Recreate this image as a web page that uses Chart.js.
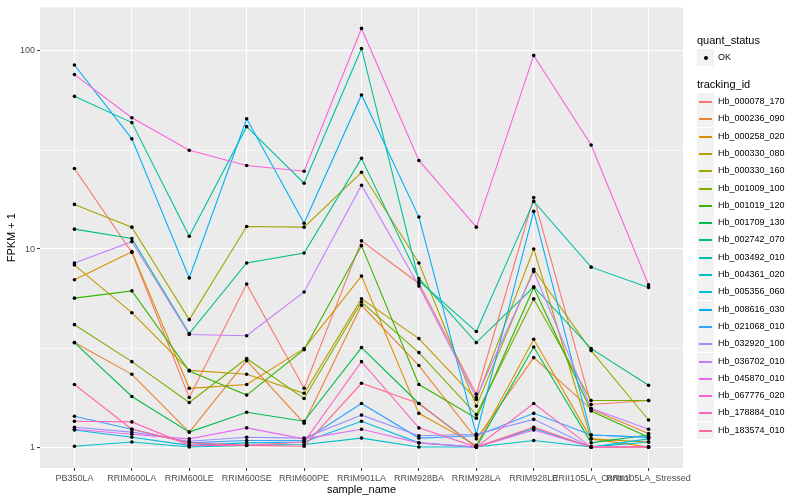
<!DOCTYPE html>
<html>
<head>
<meta charset="utf-8">
<script src="https://cdn.jsdelivr.net/npm/chart.js@4"></script>
<style>
  body { margin: 0; background: #fff; font-family: "Liberation Sans", Arial, sans-serif; }
  #wrap { position: relative; width: 800px; height: 500px; }
  #legend { position: absolute; left: 696px; top: 0; width: 104px; height: 500px; }
  .ttl { position: absolute; left: 1px; font-size: 11px; color: #000; line-height: 13px; }
  .key { position: absolute; left: 1px; width: 17px; height: 17px; background: #F2F2F2; }
  .key i { position: absolute; left: 2px; right: 2px; top: 8px; height: 2px; }
  .key b { position: absolute; left: 6.5px; top: 6.5px; width: 4px; height: 4px; border-radius: 50%; background: #000; }
  .lab { position: absolute; left: 22px; font-size: 9px; color: #000; line-height: 11px; }
</style>
</head>
<body>
<div id="wrap">
  <canvas id="chart" width="800" height="500"></canvas>
  <div id="legend"></div>
</div>
<script>
// samples on the x axis
const categories = ['PB350LA', 'RRIM600LA', 'RRIM600LE', 'RRIM600SE', 'RRIM600PE', 'RRIM901LA',
  'RRIM928BA', 'RRIM928LA', 'RRIM928LE', 'RRII105LA_Control', 'RRII105LA_Stressed'];

const trackingIds = ['Hb_000078_170', 'Hb_000236_090', 'Hb_000258_020', 'Hb_000330_080', 'Hb_000330_160',
  'Hb_001009_100', 'Hb_001019_120', 'Hb_001709_130', 'Hb_002742_070', 'Hb_003492_010',
  'Hb_004361_020', 'Hb_005356_060', 'Hb_008616_030', 'Hb_021068_010', 'Hb_032920_100',
  'Hb_036702_010', 'Hb_045870_010', 'Hb_067776_020', 'Hb_178884_010', 'Hb_183574_010'];

// FPKM + 1 per sample
const hb000078_170 = [25.5, 9.6, 1.78, 6.65, 1.98, 11.0, 6.7, 1.85, 18.2, 1.64, 1.72];
const hb000236_090 = [3.37, 2.33, 1.19, 2.73, 1.32, 5.2, 2.58, 1.1, 2.83, 1.55, 1.17];
const hb000258_020 = [7.0, 9.7, 1.98, 2.07, 3.14, 7.3, 1.48, 1.02, 3.5, 1.1, 1.0];
const hb000330_080 = [8.3, 4.77, 2.44, 2.33, 1.87, 5.6, 3.53, 1.74, 10.0, 1.1, 1.06];
const hb000330_160 = [16.8, 12.9, 4.4, 13.0, 12.9, 24.4, 8.5, 1.61, 7.9, 3.07, 1.37];
const hb001009_100 = [4.15, 2.7, 1.68, 2.8, 1.76, 5.4, 3.0, 1.46, 5.6, 1.72, 1.72];
const hb001019_120 = [5.65, 6.15, 2.42, 1.83, 3.1, 10.4, 2.07, 1.4, 6.4, 1.52, 1.12];
const hb001709_130 = [3.37, 1.8, 1.19, 1.5, 1.35, 3.18, 1.66, 1.0, 3.2, 1.05, 1.15];
const hb002742_070 = [12.6, 11.3, 3.74, 8.5, 9.55, 28.7, 7.1, 3.37, 6.45, 3.14, 2.05];
const hb003492_010 = [59, 43.5, 11.6, 41.5, 21.5, 103, 6.9, 3.83, 17.4, 8.1, 6.4];
const hb004361_020 = [1.01, 1.06, 1.0, 1.02, 1.03, 1.11, 1.0, 1.0, 1.08, 1.0, 1.06];
const hb005356_060 = [1.22, 1.12, 1.02, 1.05, 1.06, 1.35, 1.05, 1.0, 1.24, 1.0, 1.1];
const hb008616_030 = [85, 36, 7.15, 45.5, 13.5, 60, 14.5, 1.16, 15.5, 1.15, 1.12];
const hb021068_010 = [1.43, 1.23, 1.05, 1.08, 1.08, 1.66, 1.11, 1.14, 1.48, 1.15, 1.12];
const hb032920_100 = [1.26, 1.19, 1.07, 1.12, 1.11, 1.45, 1.14, 1.16, 1.38, 1.0, 1.0];
const hb036702_010 = [8.5, 10.9, 3.7, 3.65, 6.07, 21, 6.5, 1.78, 7.7, 1.57, 1.23];
const hb045870_010 = [1.23, 1.16, 1.1, 1.25, 1.1, 1.23, 1.05, 1.0, 1.22, 1.0, 1.0];
const hb067776_020 = [76, 46, 31.5, 26.4, 24.7, 130, 28, 12.9, 95, 33.5, 6.6];
const hb178884_010 = [1.35, 1.34, 1.02, 1.02, 1.06, 2.7, 1.25, 1.0, 1.66, 1.0, 1.0];
const hb183574_010 = [2.07, 1.23, 1.05, 1.02, 1.01, 2.1, 1.66, 1.0, 1.26, 1.0, 1.0];

const series = [hb000078_170, hb000236_090, hb000258_020, hb000330_080, hb000330_160,
  hb001009_100, hb001019_120, hb001709_130, hb002742_070, hb003492_010,
  hb004361_020, hb005356_060, hb008616_030, hb021068_010, hb032920_100,
  hb036702_010, hb045870_010, hb067776_020, hb178884_010, hb183574_010];

const yMajor = [1, 10, 100];
const yMinor = [3.1623, 31.623];

// ggplot hue palette, 20 levels
const colors = ['#F8766D', '#EA8331', '#D89000', '#C09B00', '#A3A500', '#7CAE00', '#39B600',
  '#00BB4E', '#00BF7D', '#00C1A3', '#00BFC4', '#00BAE0', '#00B0F6', '#35A2FF', '#9590FF',
  '#C77CFF', '#E76BF3', '#FA62DB', '#FF62BC', '#FF6C91'];

const datasets = [];
series.forEach((vals, i) => {
  const pts = vals.map((v, j) => ({ x: j, y: v }));
  datasets.push({
    label: trackingIds[i], data: pts, borderColor: colors[i], borderWidth: 1.1,
    pointRadius: 0, tension: 0, order: 100 - i
  });
  datasets.push({
    label: trackingIds[i] + ' OK', data: pts, showLine: false, pointRadius: 1.8,
    pointBackgroundColor: '#000', pointBorderWidth: 0, order: 0
  });
});

const isMajor = v => yMajor.some(m => Math.abs(m - v) < 1e-6);

const panelBg = {
  id: 'panelBg',
  beforeDraw(chart) {
    const { ctx, chartArea: a } = chart;
    ctx.save();
    ctx.fillStyle = '#EBEBEB';
    ctx.fillRect(a.left, a.top, a.right - a.left, a.bottom - a.top);
    ctx.restore();
  }
};

new Chart(document.getElementById('chart'), {
  type: 'line',
  data: { datasets },
  plugins: [panelBg],
  options: {
    responsive: false,
    animation: false,
    layout: { padding: { left: 0, top: 5, right: 117, bottom: 0 } },
    plugins: { legend: { display: false }, tooltip: { enabled: false } },
    scales: {
      x: {
        type: 'linear', min: -0.6, max: 10.6,
        afterBuildTicks: s => { s.ticks = categories.map((c, i) => ({ value: i })); },
        afterFit: s => { s.height = 32; },
        border: { display: false },
        grid: { color: '#FFFFFF', lineWidth: 1.1, drawTicks: true, tickLength: 3, tickColor: '#333333', tickWidth: 1 },
        ticks: {
          autoSkip: false, maxRotation: 0, minRotation: 0, padding: 2,
          color: '#4D4D4D', font: { family: 'Liberation Sans', size: 9 },
          callback: v => categories[v]
        },
        title: { display: true, text: 'sample_name', color: '#000', font: { family: 'Liberation Sans', size: 11 }, padding: { top: 0, bottom: 3 } }
      },
      y: {
        type: 'logarithmic', min: 0.784, max: 166,
        afterBuildTicks: s => { s.ticks = yMajor.concat(yMinor).sort((a, b) => a - b).map(v => ({ value: v })); },
        afterFit: s => { s.width = 40; },
        border: { display: false },
        grid: {
          color: '#FFFFFF',
          lineWidth: c => (c.tick && isMajor(c.tick.value)) ? 1.1 : 0.55,
          drawTicks: true, tickLength: 3, tickWidth: 1,
          tickColor: c => (c.tick && isMajor(c.tick.value)) ? '#333333' : 'rgba(0,0,0,0)'
        },
        ticks: {
          padding: 2, color: '#4D4D4D', font: { family: 'Liberation Sans', size: 9 },
          callback: v => isMajor(v) ? String(v) : ''
        },
        title: { display: true, text: 'FPKM + 1', color: '#000', font: { family: 'Liberation Sans', size: 11 }, padding: { top: 5, bottom: 0 } }
      }
    }
  }
});

// legend drawn as html text
const legend = document.getElementById('legend');
let html = '<div class="ttl" style="top:34px">quant_status</div>';
html += '<div class="key" style="top:49px"><b></b></div><div class="lab" style="top:52px">OK</div>';
html += '<div class="ttl" style="top:78px">tracking_id</div>';
trackingIds.forEach((id, i) => {
  const top = Math.round(93 + i * 17.3);
  html += '<div class="key" style="top:' + top + 'px"><i style="background:' + colors[i] + '"></i></div>';
  html += '<div class="lab" style="top:' + (top + 3) + 'px">' + id + '</div>';
});
legend.innerHTML = html;
</script>
</body>
</html>
